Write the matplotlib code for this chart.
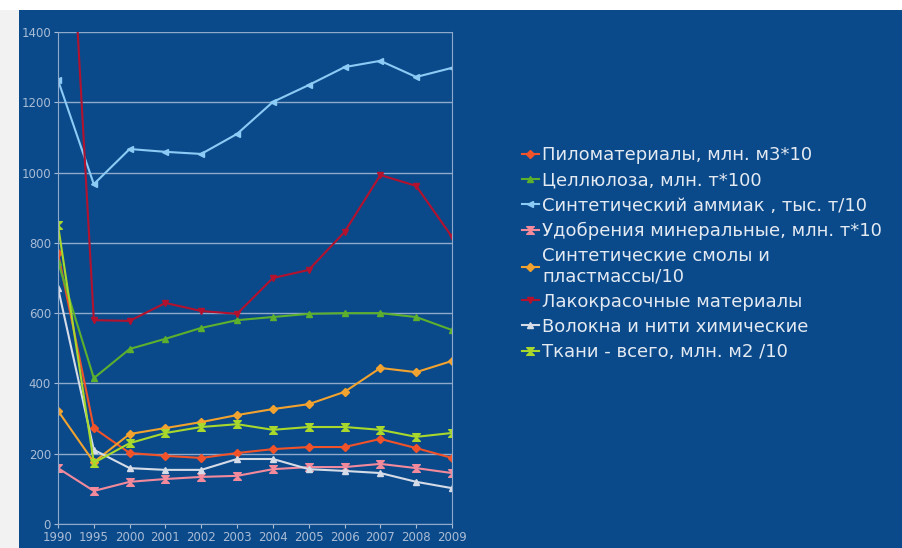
import matplotlib.pyplot as plt
from matplotlib.path import Path
from matplotlib.patches import Rectangle

# данные
years = ["1990", "1995", "2000", "2001", "2002", "2003", "2004",
         "2005", "2006", "2007", "2008", "2009"]

pilomat = [771, 273, 202, 194, 188, 202, 213, 219, 219, 242, 216, 188]
cellulose = [746, 415, 498, 527, 558, 580, 589, 598, 600, 600, 589, 552]
ammiak = [1263, 967, 1067, 1059, 1053, 1110, 1201, 1249, 1300, 1318, 1272, 1298]
udobr = [159, 94, 120, 128, 134, 137, 156, 162, 162, 171, 159, 145]
smoly = [322, 176, 256, 273, 290, 310, 327, 341, 376, 444, 432, 464]
lakokr = [2400, 580, 578, 629, 606, 598, 700, 723, 831, 993, 962, 817]
volokna = [672, 211, 159, 154, 154, 185, 185, 156, 151, 145, 120, 102]
tkani = [851, 174, 230, 259, 276, 284, 268, 276, 276, 268, 248, 259]

labels = [
    "Пиломатериалы, млн. м3*10",
    "Целлюлоза, млн. т*100",
    "Синтетический аммиак , тыс. т/10",
    "Удобрения минеральные, млн. т*10",
    "Синтетические смолы и\nпластмассы/10",
    "Лакокрасочные материалы",
    "Волокна и нити химические",
    "Ткани - всего, млн. м2 /10",
]

bg = "#0B4A8A"
grid_c = "#8FA9CC"
txt_c = "#A9BCD6"

hourglass = Path([(-1, 1), (1, 1), (-1, -1), (1, -1), (-1, 1)],
                 [Path.MOVETO, Path.LINETO, Path.LINETO, Path.LINETO, Path.CLOSEPOLY])

series = [
    (pilomat, "#F0522A", "D", 4),
    (cellulose, "#5DB02E", "^", 5),
    (ammiak, "#8CCBF5", "<", 5),
    (udobr, "#F28A9C", hourglass, 5.5),
    (smoly, "#F2A22E", "D", 4),
    (lakokr, "#B3122F", "v", 5),
    (volokna, "#D5DCE8", "^", 5),
    (tkani, "#A8D82C", hourglass, 5.5),
]

fig = plt.figure(figsize=(9.03, 5.48), dpi=100)
fig.patch.set_facecolor(bg)
# белые поля слева и сверху
fig.add_artist(Rectangle((0, 0), 19 / 903, 1, transform=fig.transFigure,
                         facecolor="#F2F2F2", edgecolor="none", zorder=-5))
fig.add_artist(Rectangle((0, 1 - 10 / 548), 1, 10 / 548, transform=fig.transFigure,
                         facecolor="white", edgecolor="none", zorder=-5))

ax = fig.add_axes([58 / 903, 1 - 524 / 548, (452 - 58) / 903, (524 - 32) / 548])
ax.set_facecolor(bg)

x = range(len(years))
for (vals, col, mk, ms), lab in zip(series, labels):
    ax.plot(x, vals, color=col, marker=mk, markersize=ms, linewidth=1.5,
            label=lab)

ax.set_xlim(0, len(years) - 1)
ax.set_ylim(0, 1400)
ax.set_yticks(range(0, 1401, 200))
ax.set_xticks(list(x))
ax.set_xticklabels(years)
ax.grid(axis="y", color=grid_c, linewidth=1)
ax.set_axisbelow(True)
for s in ax.spines.values():
    s.set_color(grid_c)
ax.spines["top"].set_visible(False)
ax.tick_params(colors=txt_c, labelsize=8.5, length=3, pad=2)

leg = ax.legend(loc="upper left", bbox_to_anchor=(1.16, 0.782), frameon=False,
                fontsize=13, handlelength=0.9, handletextpad=0.2,
                labelspacing=0.39, borderaxespad=0)
for t in leg.get_texts():
    t.set_color("#E4EAF2")

fig.savefig("out.png", dpi=100, facecolor=fig.get_facecolor())
